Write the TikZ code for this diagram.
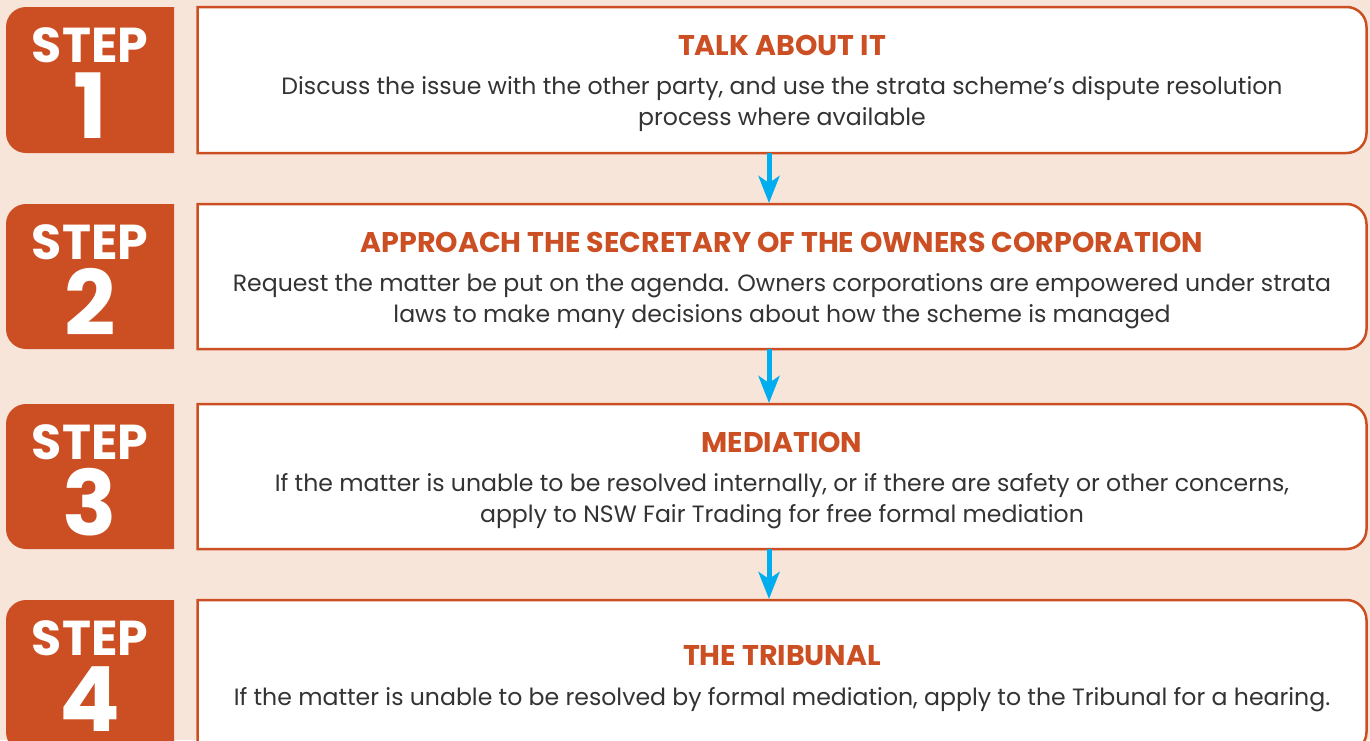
\documentclass[tikz,border=0pt]{standalone}
\usepackage{fontspec}
\setmainfont{Poppins}
\usetikzlibrary{arrows.meta}
\definecolor{bgpeach}{HTML}{F8E5DA}
\definecolor{stratorange}{HTML}{CC4F23}
\definecolor{arrowblue}{HTML}{00AEEF}
\definecolor{bodygray}{HTML}{333333}
\tikzset{
  frame/.style={draw=none, inner sep=0pt, outer sep=0pt, anchor=north west},
  steptxt/.style={text=white, font=\fontsize{49}{49}\selectfont\bfseries, anchor=base, inner sep=0pt},
  numtxt/.style={text=white, font=\fontsize{90}{90}\selectfont\bfseries, anchor=base, inner sep=0pt},
  titletxt/.style={text=stratorange, font=\fontsize{28.5}{28.5}\selectfont\bfseries, anchor=base, inner sep=0pt},
  bodytxt/.style={text=bodygray, font=\fontsize{23.6}{31}\selectfont, anchor=base, inner sep=0pt},
  boxline/.style={draw=stratorange, line width=2.5pt, fill=white},
  flowarrow/.style={draw=arrowblue, line width=5pt, -{Stealth[length=27pt,width=21pt,inset=7pt]}, shorten >=1pt},
}
\begin{document}
\begin{tikzpicture}[x=1pt,y=1pt]
\useasboundingbox (0,0) rectangle (1370,-740);
\clip (0,0) rectangle (1370,-740);
\fill[bgpeach] (0,0) rectangle (1370,-740);
% rows: index/top/bottom
\foreach \i/\top/\bot in {1/7/153, 2/204/349, 3/404/549, 4/600/752}{
  \node[frame, minimum width=168pt, minimum height={(\bot-\top)*1pt}] (s\i) at (6,-\top) {};
  \fill[stratorange] ([xshift=20pt]s\i.north west) -- (s\i.north east) -- (s\i.south east)
     -- ([xshift=20pt]s\i.south west) arc[start angle=270,end angle=180,radius=20pt]
     -- ([yshift=-20pt]s\i.north west) arc[start angle=180,end angle=90,radius=20pt] -- cycle;
  \node[frame, minimum width=1169pt, minimum height={(\bot-\top)*1pt}] (b\i) at (197.5,-\top) {};
  \draw[boxline] (b\i.north west) -- ([xshift=-20pt]b\i.north east) arc[start angle=90,end angle=0,radius=20pt]
     -- ([yshift=20pt]b\i.south east) arc[start angle=0,end angle=-90,radius=20pt]
     -- (b\i.south west) -- cycle;
  \node[steptxt] (st\i) at ([yshift=-55pt]s\i.north) {STEP};
  \node[numtxt] (n\i) at ([yshift=-131pt]s\i.north) {\i};
}
% titles and body text
\node[titletxt] (h1) at ([yshift=-48pt]b1.north) {TALK ABOUT IT};
\node[bodytxt] (t1a) at ([yshift=-87pt]b1.north) {Discuss the issue with the other party, and use the strata scheme’s dispute resolution};
\node[bodytxt] (t1b) at ([yshift=-118pt]b1.north) {process where available};
\node[titletxt] (h2) at ([yshift=-48pt]b2.north) {APPROACH THE SECRETARY OF THE OWNERS CORPORATION};
\node[bodytxt] (t2a) at ([yshift=-87pt]b2.north) {Request the matter be put on the agenda. Owners corporations are empowered under strata};
\node[bodytxt] (t2b) at ([yshift=-118pt]b2.north) {laws to make many decisions about how the scheme is managed};
\node[titletxt] (h3) at ([yshift=-48pt]b3.north) {MEDIATION};
\node[bodytxt] (t3a) at ([yshift=-87pt]b3.north) {If the matter is unable to be resolved internally, or if there are safety or other concerns,};
\node[bodytxt] (t3b) at ([yshift=-118pt]b3.north) {apply to NSW Fair Trading for free formal mediation};
\node[titletxt] (h4) at ([yshift=-65pt]b4.north) {THE TRIBUNAL};
\node[bodytxt] (t4a) at ([yshift=-105pt]b4.north) {If the matter is unable to be resolved by formal mediation, apply to the Tribunal for a hearing.};
% arrows
\foreach \a/\b in {1/2, 2/3, 3/4}{
  \draw[flowarrow] ([xshift=-13pt]b\a.south) -- ([xshift=-13pt]b\b.north);
}
\end{tikzpicture}
\end{document}
